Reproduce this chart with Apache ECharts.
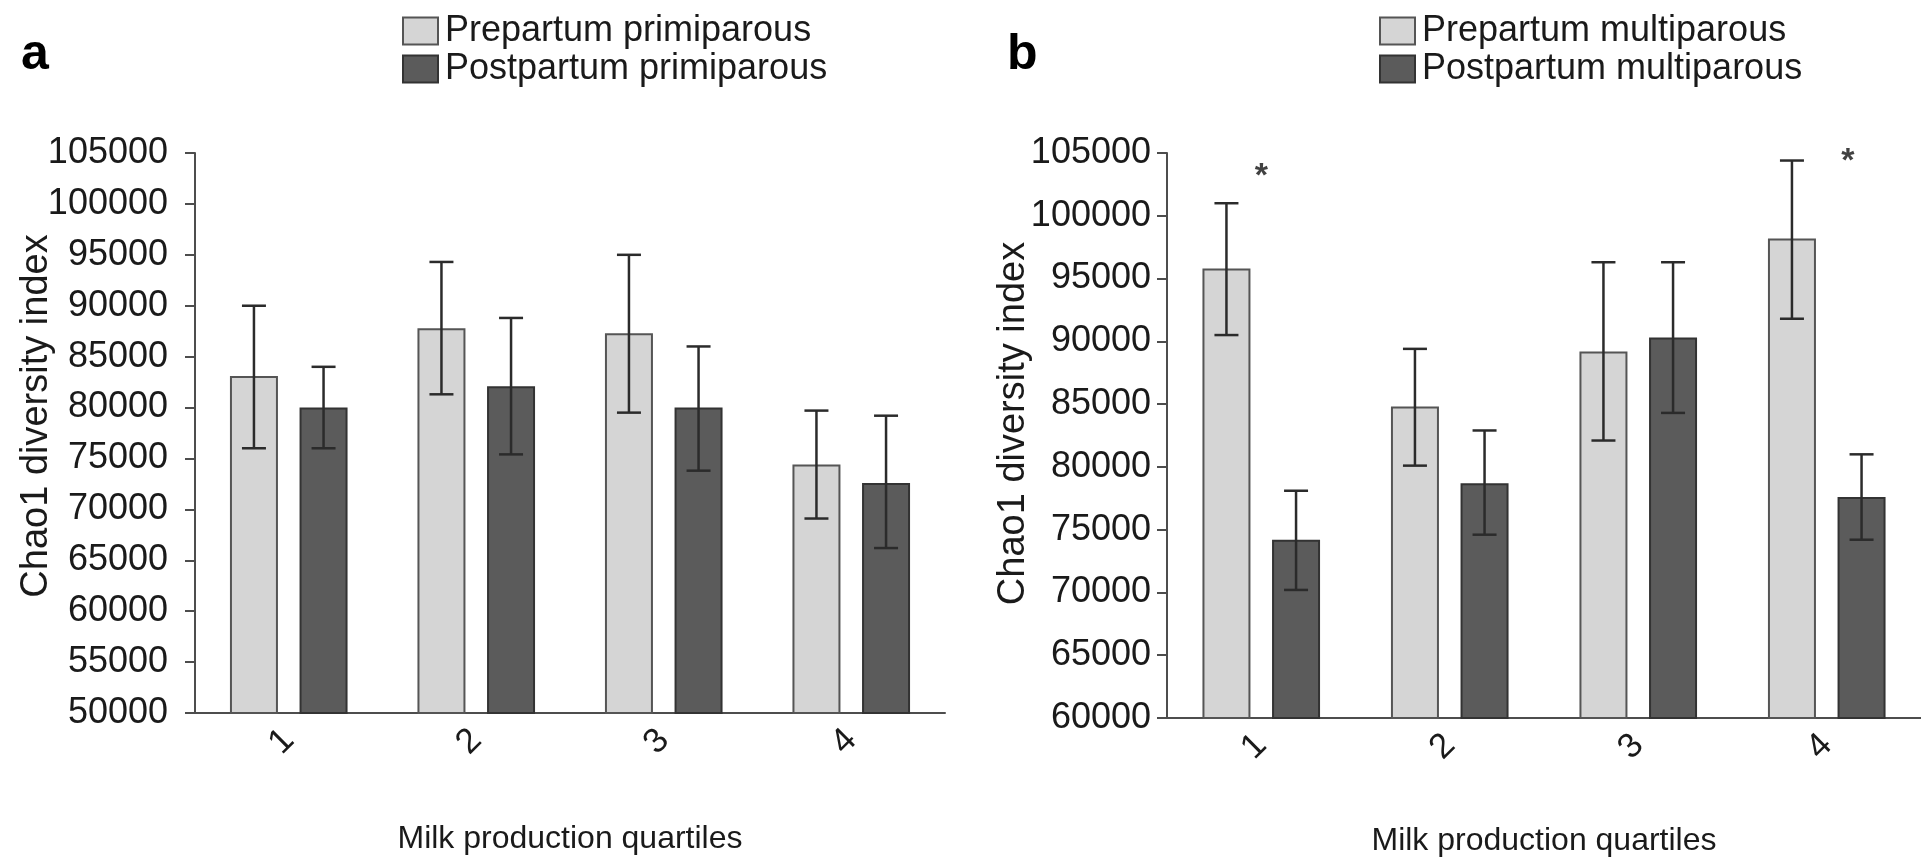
<!DOCTYPE html>
<html>
<head>
<meta charset="utf-8">
<script src="https://cdn.jsdelivr.net/npm/echarts@6/dist/echarts.min.js"></script>
<style>
  html, body { margin: 0; padding: 0; background: #fff; }
  #chart { width: 1921px; height: 859px; }
</style>
</head>
<body>
<div id="chart"></div>
<script>
// categories
const quartiles = ['1', '2', '3', '4'];

// panel a - primiparous
const prePrimMean = [83100, 87800, 87300, 74400];
const prePrimLow = [76000, 81300, 79500, 69100];
const prePrimHigh = [90000, 94300, 95000, 79700];
const postPrimMean = [80000, 82100, 80000, 72600];
const postPrimLow = [76000, 75400, 73800, 66200];
const postPrimHigh = [84000, 88800, 86000, 79200];

// panel b - multiparous
const preMultMean = [95800, 84800, 89200, 98200];
const preMultLow = [90500, 80100, 82100, 91800];
const preMultHigh = [101000, 89400, 96300, 104400];
const postMultMean = [74200, 78700, 90300, 77600];
const postMultLow = [70200, 74600, 84300, 74200];
const postMultHigh = [78100, 82900, 96300, 81000];

// significance marks (panel b)
const sigQuartiles = ['1', '4'];
const sigValues = [103800, 105000];

const FONT = '"Liberation Sans", Arial, sans-serif';
const TEXT = '#1a1a1a';
const AXIS = '#4d4d4d';
const BAR_W = 48;
const BAR_GAP = 0.45;
const BAR_OFF = (BAR_W + BAR_W * BAR_GAP) / 2;
const CAP_W = 24;
const sigOffsets = [0, 21];

const lightStyle = { color: '#d5d5d5', borderColor: '#555', borderWidth: 2 };
const darkStyle = { color: '#5b5b5b', borderColor: '#333', borderWidth: 2 };

const chart = echarts.init(document.getElementById('chart'));

const xAxisBase = (gridIndex, nameGap) => ({
  type: 'category',
  gridIndex,
  data: quartiles,
  name: 'Milk production quartiles',
  nameLocation: 'middle',
  nameGap,
  nameTextStyle: { fontFamily: FONT, fontSize: 32, color: TEXT },
  axisLine: { lineStyle: { color: AXIS, width: 2 } },
  axisTick: { alignWithLabel: true, length: 9, lineStyle: { color: AXIS, width: 2 } },
  axisLabel: { rotate: 45, margin: 22, fontFamily: FONT, fontSize: 35, color: TEXT },
  splitLine: { show: false }
});

const yAxisBase = (gridIndex, min, nameGap, labelMargin, shiftUp) => ({
  type: 'value',
  gridIndex,
  min,
  max: 105000,
  interval: 5000,
  name: 'Chao1 diversity index',
  nameLocation: 'middle',
  nameGap,
  nameMoveOverlap: false,
  nameTextStyle: { fontFamily: FONT, fontSize: 38, color: TEXT, padding: [0, 0, 0, shiftUp] },
  axisLine: { show: true, lineStyle: { color: AXIS, width: 2 } },
  axisTick: { show: true, length: 10, lineStyle: { color: AXIS, width: 2 } },
  axisLabel: { margin: labelMargin, fontFamily: FONT, fontSize: 36, color: TEXT, formatter: v => String(v) },
  splitLine: { show: false }
});

const barSeries = (name, data, idx, style) => ({
  name,
  type: 'bar',
  xAxisIndex: idx,
  yAxisIndex: idx,
  data,
  barWidth: BAR_W,
  barGap: (BAR_GAP * 100) + '%',
  itemStyle: style,
  z: 2
});

const errorSeries = (low, high, idx, offset) => ({
  type: 'custom',
  xAxisIndex: idx,
  yAxisIndex: idx,
  z: 5,
  silent: true,
  data: quartiles.map((q, i) => [i, low[i], high[i]]),
  renderItem: (params, api) => {
    const lo = api.coord([api.value(0), api.value(1)]);
    const hi = api.coord([api.value(0), api.value(2)]);
    const x = lo[0] + offset;
    const style = { stroke: '#2b2b2b', lineWidth: 2.5 };
    return {
      type: 'group',
      children: [
        { type: 'line', shape: { x1: x, y1: lo[1], x2: x, y2: hi[1] }, style },
        { type: 'line', shape: { x1: x - CAP_W / 2, y1: hi[1], x2: x + CAP_W / 2, y2: hi[1] }, style },
        { type: 'line', shape: { x1: x - CAP_W / 2, y1: lo[1], x2: x + CAP_W / 2, y2: lo[1] }, style }
      ]
    };
  }
});

const legendBase = (left, names) => ({
  orient: 'vertical',
  left,
  top: 8,
  itemWidth: 35,
  itemHeight: 27,
  itemGap: 2,
  icon: 'rect',
  data: names,
  textStyle: { fontFamily: FONT, fontSize: 36, color: TEXT, lineHeight: 36, padding: [0, 0, 0, 2] }
});

const option = {
  backgroundColor: '#fff',
  animation: false,
  textStyle: { fontFamily: FONT },
  graphic: [
    { type: 'text', left: 21, top: 30, style: { text: 'a', font: 'bold 50px ' + FONT, fill: '#000' } },
    { type: 'text', left: 1007, top: 30, style: { text: 'b', font: 'bold 50px ' + FONT, fill: '#000' } }
  ],
  legend: [
    legendBase(397, ['Prepartum primiparous', 'Postpartum primiparous']),
    legendBase(1374, ['Prepartum multiparous', 'Postpartum multiparous'])
  ],
  grid: [
    { left: 195, top: 153, width: 750, height: 560, outerBoundsMode: 'none' },
    { left: 1167, top: 153, width: 754, height: 565, outerBoundsMode: 'none' }
  ],
  xAxis: [xAxisBase(0, 110), xAxisBase(1, 107)],
  yAxis: [yAxisBase(0, 50000, 139, 27, 34), yAxisBase(1, 60000, 134, 16, 24)],
  series: [
    barSeries('Prepartum primiparous', prePrimMean, 0, lightStyle),
    barSeries('Postpartum primiparous', postPrimMean, 0, darkStyle),
    errorSeries(prePrimLow, prePrimHigh, 0, -BAR_OFF),
    errorSeries(postPrimLow, postPrimHigh, 0, BAR_OFF),
    barSeries('Prepartum multiparous', preMultMean, 1, lightStyle),
    barSeries('Postpartum multiparous', postMultMean, 1, darkStyle),
    errorSeries(preMultLow, preMultHigh, 1, -BAR_OFF),
    errorSeries(postMultLow, postMultHigh, 1, BAR_OFF),
    {
      type: 'scatter',
      xAxisIndex: 1,
      yAxisIndex: 1,
      symbol: 'circle',
      symbolSize: 2,
      itemStyle: { color: 'rgba(0,0,0,0)' },
      silent: true,
      z: 6,
      data: sigQuartiles.map((q, i) => ({
        value: [q, sigValues[i]],
        label: { offset: [sigOffsets[i], 9] }
      })),
      label: {
        show: true,
        position: 'inside',
        formatter: '*',
        fontFamily: FONT,
        fontWeight: 'bold',
        fontSize: 34,
        color: '#111'
      }
    }
  ]
};

chart.setOption(option);
</script>
</body>
</html>
